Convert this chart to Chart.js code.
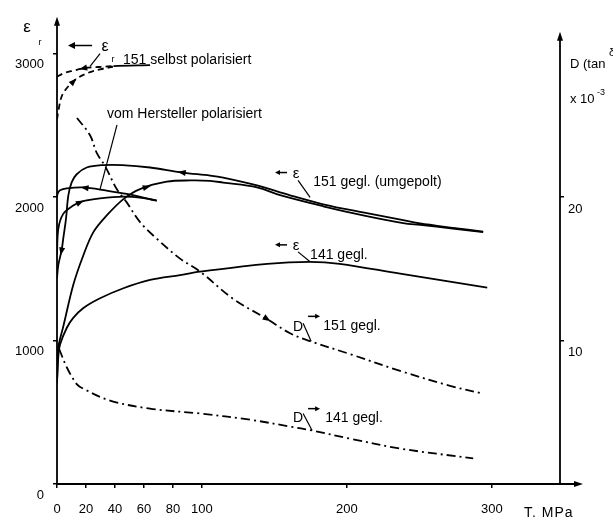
<!DOCTYPE html>
<html><head><meta charset="utf-8">
<script src="https://cdn.jsdelivr.net/npm/chart.js@4/dist/chart.umd.min.js"></script>
<style>html,body{margin:0;padding:0;background:#fff}#wrap{width:613px;height:520px;position:relative}</style>
</head><body><div id="wrap"><canvas id="c"></canvas></div>
<script>
// ---------- data (T in MPa, eps_r, D in 1e-3) ----------
const T_SELBST_RISE = [0, 1.1, 3.2, 6.7, 12.4, 20.5, 29.7, 38.6];
const EPS_SELBST_RISE = [2540, 2608, 2700, 2757, 2815, 2861, 2889, 2907];
const T_SELBST_RET = [0, 4.4, 11.3, 18.2, 25.1, 32, 38.9, 64.2];
const EPS_SELBST_RET = [2838, 2861, 2880, 2896, 2903, 2907, 2912, 2918];

const T_HERST_RISE = [0, 0.9, 4.3, 11.2, 17, 29.7, 45.8, 59.6, 68.8];
const EPS_HERST_RISE = [1600, 1778, 1882, 1940, 1968, 1990, 2002, 1992, 1974];
const T_HERST_RET = [0, 0.5, 2.1, 6.7, 17.9, 34.3, 48.1, 68.8];
const EPS_HERST_RET = [1997, 2025, 2046, 2059, 2066, 2044, 2021, 1974];

const T_151_RISE = [0, 0.9, 2.1, 4.4, 11.2, 18.2, 25.1, 34.3, 45.8, 57.3, 75.7, 91.8, 105.6, 114.6, 138, 153.9, 183.6, 212, 238.8, 250.5, 273, 294];
const EPS_151_RISE = [700, 949, 1010, 1100, 1387, 1594, 1755, 1871, 1985, 2055, 2106, 2115, 2112, 2100, 2066, 2012, 1935, 1870, 1818, 1805, 1780, 1755];
const T_151_RET = [0, 0.9, 3.2, 4.3, 6.2, 7.8, 10.1, 13.6, 20.5, 32, 45, 64.2, 86.3, 105.6, 114.6, 138, 160.8, 183.6, 212, 238.8, 250.5, 273, 294];
const EPS_151_RET = [1433, 1525, 1629, 1709, 1847, 2009, 2101, 2158, 2205, 2222, 2222, 2205, 2170, 2149, 2135, 2080, 2011, 1949, 1890, 1838, 1815, 1785, 1758];

const T_141 = [0, 1, 2.1, 6.7, 11.2, 18.2, 29.7, 45.8, 64.2, 84.9, 98.7, 145, 174.6, 195, 236.7, 296.8];
const EPS_141 = [710, 900, 972, 1087, 1157, 1226, 1294, 1364, 1422, 1456, 1479, 1534, 1548, 1534, 1465, 1368];

const T_D151 = [13.8, 22.8, 27.4, 33.1, 41.2, 48.1, 57.3, 68.8, 84.9, 98.7, 121.5, 144.9, 160.8, 174.6, 202.2, 236.7, 271.2, 294];
const D_151 = [25.5, 24.3, 23.07, 22.16, 20.55, 19.62, 18.24, 17.09, 15.7, 14.8, 12.9, 11.5, 10.5, 9.95, 9.05, 7.88, 6.84, 6.29];
const T_D141 = [1.5, 6.9, 13.6, 17.9, 36.6, 64.2, 98.7, 133.2, 160.8, 175.8, 202.2, 236.7, 287.1];
const D_141 = [9.4, 8.1, 6.96, 6.65, 5.81, 5.25, 4.91, 4.48, 4.0, 3.73, 3.16, 2.47, 1.78];

const X_TICKS = [0, 20, 40, 60, 80, 100, 200, 300];
const EPS_TICKS = [0, 1000, 2000, 3000];
const D_TICKS = [10, 20];

const X_MAX = 347, EPS_MAX = 3255, D_MAX = 32.55;

// ---------- helpers ----------
const FAM = '"Liberation Sans", Arial, "DejaVu Sans", sans-serif';
const pts = (xs, ys) => xs.map((x, i) => ({ x: x, y: ys[i] }));
const DASH = [6, 4];
const DASHDOT = [9, 4, 2, 4];

function ds(xs, ys, extra) {
  return Object.assign({ data: pts(xs, ys), borderColor: '#000', borderWidth: 1.8, pointRadius: 0, tension: 0.35, fill: false, yAxisID: 'y' }, extra || {});
}

const datasets = [
  ds(T_SELBST_RISE, EPS_SELBST_RISE, { borderDash: DASH, arrows: [{ t: 11.5, dir: 1 }] }),
  ds(T_SELBST_RET, EPS_SELBST_RET, { borderDash: DASH, arrows: [{ t: 18, dir: -1 }],
     segment: { borderDash: c => (c.p0.parsed.x >= 38 ? [] : DASH) } }),
  ds(T_HERST_RISE, EPS_HERST_RISE, { arrows: [{ t: 16, dir: 1 }] }),
  ds(T_HERST_RET, EPS_HERST_RET, { arrows: [{ t: 19, dir: -1 }] }),
  ds(T_151_RISE, EPS_151_RISE, { arrows: [{ t: 62, dir: 1 }] }),
  ds(T_151_RET, EPS_151_RET, { arrows: [{ t: 86, dir: -1 }, { t: 3.0, dir: -1 }] }),
  ds(T_141, EPS_141, {}),
  ds(T_D151, D_151, { yAxisID: 'y2', borderDash: DASHDOT, arrows: [{ t: 145, dir: 1 }] }),
  ds(T_D141, D_141, { yAxisID: 'y2', borderDash: DASHDOT })
];

function head(ctx, x, y, ux, uy, len, half) {
  ctx.beginPath();
  ctx.moveTo(x, y);
  ctx.lineTo(x - ux * len - uy * half, y - uy * len + ux * half);
  ctx.lineTo(x - ux * len + uy * half, y - uy * len - ux * half);
  ctx.closePath();
  ctx.fill();
}

const curveArrows = {
  id: 'curveArrows',
  afterDatasetsDraw(chart) {
    const ctx = chart.ctx;
    ctx.save();
    ctx.fillStyle = '#000';
    chart.data.datasets.forEach((d, i) => {
      if (!d.arrows) return;
      const meta = chart.getDatasetMeta(i);
      d.arrows.forEach(a => {
        for (let k = 0; k < d.data.length - 1; k++) {
          const x0 = d.data[k].x, x1 = d.data[k + 1].x;
          if (a.t >= x0 && a.t <= x1 && x1 > x0) {
            const f = (a.t - x0) / (x1 - x0);
            const p0 = meta.data[k], p1 = meta.data[k + 1];
            const px = p0.x + (p1.x - p0.x) * f, py = p0.y + (p1.y - p0.y) * f;
            let ux = (p1.x - p0.x) * a.dir, uy = (p1.y - p0.y) * a.dir;
            const L = Math.hypot(ux, uy) || 1; ux /= L; uy /= L;
            head(ctx, px + ux * 4, py + uy * 4, ux, uy, 8, 3);
            break;
          }
        }
      });
    });
    ctx.restore();
  }
};

// annotations in data coordinates (T, eps scale)
const TEXTS = [
  { t: 45.5, e: 2951, s: '151 selbst polarisiert' },
  { t: 34.5, e: 2578, s: 'vom Hersteller polarisiert' },
  { t: 176.7, e: 2101, s: '151 gegl. (umgepolt)' },
  { t: 174.6, e: 1596, s: '141 gegl.' },
  { t: 183.6, e: 1099, s: '151 gegl.' },
  { t: 185, e: 456, s: '141 gegl.' }
];
const SYMBOLS = [
  { t: 33.1, e: 3050, s: 'ε', size: 16 },
  { t: 38.6, e: 2958, s: 'r', size: 9 },
  { t: 165, e: 2160, s: 'ε', size: 15 },
  { t: 165, e: 1656, s: 'ε', size: 15 },
  { t: 166.3, e: 1092, s: 'D', size: 14 },
  { t: 166.3, e: 456, s: 'D', size: 14 }
];
const LEADERS = [
  [29.7, 2999, 22.8, 2909],
  [41.4, 2502, 29.7, 2053],
  [166.3, 2115, 174.6, 1997],
  [166.3, 1617, 174.6, 1548],
  [169.8, 1120, 175.3, 995],
  [169.8, 491, 176, 373]
];
const TEXT_ARROWS = [
  [24.2, 3055, 7.6, 3055, 7, 3.5],
  [158.7, 2170, 150.4, 2170, 5, 2.5],
  [158.7, 1666, 150.4, 1666, 5, 2.5],
  [173.2, 1168, 181.5, 1168, 5, 2.5],
  [173.2, 525, 181.5, 525, 5, 2.5]
];

const decor = {
  id: 'decor',
  afterDraw(chart) {
    const ctx = chart.ctx, ca = chart.chartArea;
    const X = chart.scales.x, Y = chart.scales.y, Y2 = chart.scales.y2;
    const px = t => X.getPixelForValue(t), py = e => Y.getPixelForValue(e);
    ctx.save();
    ctx.strokeStyle = '#000'; ctx.fillStyle = '#000'; ctx.lineWidth = 1.8;
    const x0 = px(0), yb = py(0);
    const line = (a, b, c, d) => { ctx.beginPath(); ctx.moveTo(a, b); ctx.lineTo(c, d); ctx.stroke(); };
    // axes
    line(x0, yb + 1, x0, ca.top + 6); head(ctx, x0, ca.top, 0, -1, 9, 3);
    line(x0, yb, ca.right + 17, yb); head(ctx, ca.right + 23, yb, 1, 0, 9, 3);
    const yTopR = Y2.getPixelForValue(31.5);
    line(ca.right, yb, ca.right, yTopR + 6); head(ctx, ca.right, yTopR, 0, -1, 9, 3);

    // leaders
    ctx.lineWidth = 1.2;
    LEADERS.forEach(l => line(px(l[0]), py(l[1]), px(l[2]), py(l[3])));
    // text arrows
    ctx.lineWidth = 1.5;
    TEXT_ARROWS.forEach(a => {
      const xa = px(a[0]), ya = py(a[1]), xb = px(a[2]), yb2 = py(a[3]);
      let ux = xb - xa, uy = yb2 - ya; const L = Math.hypot(ux, uy); ux /= L; uy /= L;
      line(xa, ya, xb - ux * a[4] * 0.6, yb2 - uy * a[4] * 0.6);
      head(ctx, xb, yb2, ux, uy, a[4], a[5]);
    });

    // texts
    ctx.textBaseline = 'middle'; ctx.textAlign = 'left';
    ctx.font = '14px ' + FAM;
    TEXTS.forEach(t => ctx.fillText(t.s, px(t.t), py(t.e)));
    ctx.textAlign = 'center';
    SYMBOLS.forEach(s => { ctx.font = s.size + 'px ' + FAM; ctx.fillText(s.s, px(s.t), py(s.e)); });

    // axis titles
    ctx.textAlign = 'center';
    ctx.font = '17px ' + FAM; ctx.fillText('ε', x0 - 30, ca.top + 11);
    ctx.font = '9px ' + FAM; ctx.fillText('r', x0 - 17, ca.top + 26);
    ctx.textAlign = 'left';
    ctx.font = '13px ' + FAM;
    ctx.fillText('D (tan', ca.right + 10, Y.getPixelForValue(2920));
    ctx.font = '11px ' + FAM; ctx.fillText('δ', ca.right + 49, Y.getPixelForValue(3000));
    ctx.font = '13px ' + FAM; ctx.fillText('x 10', ca.right + 10, Y.getPixelForValue(2680));
    ctx.font = '9px ' + FAM; ctx.fillText('-3', ca.right + 37, Y.getPixelForValue(2725));
    ctx.font = '14px ' + FAM;
    try { ctx.letterSpacing = '1px'; } catch (e) {}
    ctx.fillText('T. MPa', ca.right - 36, yb + 29);
    ctx.restore();
  }
};

const tickFont = { family: FAM, size: 13 };
new Chart(document.getElementById('c'), {
  type: 'line',
  data: { datasets: datasets },
  plugins: [curveArrows, decor],
  options: {
    responsive: true, maintainAspectRatio: false, animation: false, devicePixelRatio: 1,
    layout: { padding: { top: 13, left: 0, right: 0, bottom: 0 } },
    plugins: { legend: { display: false }, tooltip: { enabled: false } },
    scales: {
      x: {
        type: 'linear', min: 0, max: X_MAX,
        afterBuildTicks: s => { s.ticks = X_TICKS.map(v => ({ value: v })); },
        afterFit: s => { s.height = 36; },
        grid: { display: true, drawOnChartArea: false, drawTicks: true, tickLength: 4, color: '#000', lineWidth: 1.5 },
        border: { display: false },
        ticks: { color: '#000', font: tickFont, padding: 14, maxRotation: 0, autoSkip: false, callback: v => String(v) }
      },
      y: {
        type: 'linear', position: 'left', min: 0, max: EPS_MAX,
        afterBuildTicks: s => { s.ticks = EPS_TICKS.map(v => ({ value: v })); },
        afterFit: s => { s.width = 57; },
        grid: { display: true, drawOnChartArea: false, drawTicks: true, tickLength: 4, color: '#000', lineWidth: 1.5 },
        border: { display: false },
        ticks: { color: '#000', font: tickFont, padding: 9, labelOffset: 11, autoSkip: false, callback: v => String(v) }
      },
      y2: {
        type: 'linear', position: 'right', min: 0, max: D_MAX,
        afterBuildTicks: s => { s.ticks = D_TICKS.map(v => ({ value: v })); },
        afterFit: s => { s.width = 53; },
        grid: { display: true, drawOnChartArea: false, drawTicks: true, tickLength: 4, color: '#000', lineWidth: 1.5 },
        border: { display: false },
        ticks: { color: '#000', font: tickFont, padding: 4, labelOffset: 12, autoSkip: false, callback: v => String(v) }
      }
    }
  }
});
</script>
</body></html>
